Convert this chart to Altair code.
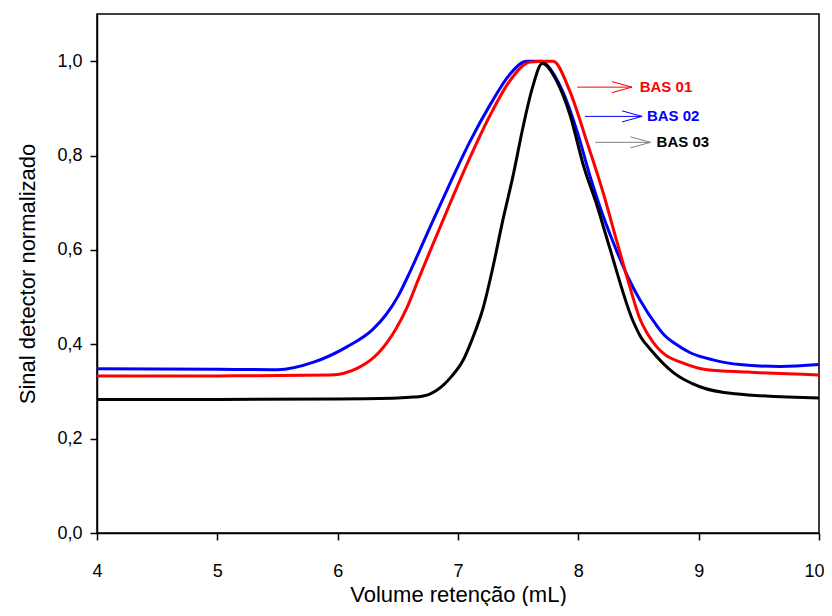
import altair as alt
import pandas as pd

# ---- data ----
bas02_x = [4.0, 5.0, 5.5, 5.8, 6.08, 6.29, 6.40, 6.50, 6.60, 6.767, 6.93, 7.10, 7.27, 7.43, 7.57, 7.70,
           7.74, 7.87, 7.99, 8.10, 8.21, 8.32, 8.43, 8.51, 8.65, 8.72, 8.80, 8.93, 9.12, 9.34, 9.68, 10.0]
bas02_y = [0.348, 0.347, 0.346, 0.362, 0.395, 0.431, 0.462, 0.501, 0.553, 0.648, 0.739, 0.830, 0.909, 0.972, 1.0, 1.0,
           0.992, 0.936, 0.851, 0.754, 0.669, 0.597, 0.533, 0.495, 0.440, 0.418, 0.402, 0.382, 0.367, 0.357, 0.353,
           0.357]

bas01_x = [4.0, 5.0, 5.94, 6.17, 6.34, 6.48, 6.58, 6.67, 6.767, 6.93, 7.10, 7.27, 7.43, 7.60, 7.74, 7.79,
           7.93, 8.07, 8.21, 8.32, 8.43, 8.51, 8.58, 8.65, 8.72, 8.85, 9.07, 9.40, 10.0]
bas01_y = [0.333, 0.333, 0.335, 0.350, 0.382, 0.431, 0.480, 0.537, 0.597, 0.696, 0.796, 0.887, 0.958, 0.998, 1.0, 1.0,
           0.936, 0.830, 0.718, 0.618, 0.520, 0.455, 0.420, 0.395, 0.378, 0.362, 0.346, 0.341, 0.335]

bas03_x = [4.0, 5.0, 6.0, 6.5, 6.63, 6.70, 6.76, 6.82, 6.88, 6.95, 7.04, 7.12, 7.21, 7.29, 7.37, 7.46, 7.54, 7.62,
           7.70, 7.82, 7.93, 8.04, 8.16, 8.26, 8.45, 8.52, 8.60, 8.79, 9.01, 9.30, 10.0]
bas03_y = [0.283, 0.283, 0.284, 0.286, 0.288, 0.290, 0.294, 0.302, 0.314, 0.333, 0.365, 0.412, 0.478, 0.563, 0.660,
           0.760, 0.860, 0.945, 0.995, 0.958, 0.887, 0.781, 0.690, 0.605, 0.452, 0.415, 0.389, 0.340, 0.310, 0.295,
           0.286]

x_ticks = [4, 5, 6, 7, 8, 9, 10]
y_ticks = [0.0, 0.2, 0.4, 0.6, 0.8, 1.0]

# annotation arrows and labels (data space)
ann_labels = ["BAS 01", "BAS 02", "BAS 03"]
ann_y = [0.945, 0.883, 0.828]
ann_x_start = [7.99, 8.055, 8.14]
ann_x_tip = [8.446, 8.53, 8.60]
ann_text_x = [8.51, 8.57, 8.65]
ann_line_colors = ["#FF0000", "#0000FF", "#808080"]
ann_text_colors = ["#FF0000", "#0000FF", "#000000"]

FONT = "Liberation Sans"

x_enc = alt.X("x:Q", scale=alt.Scale(domain=[4, 10], nice=False, zero=False),
              axis=alt.Axis(values=x_ticks, format="d", title="Volume retenção (mL)",
                            labelFlush=True, labelFlushOffset=5))
y_enc = alt.Y("y:Q", scale=alt.Scale(domain=[0, 1.1], nice=False),
              axis=alt.Axis(values=y_ticks,
                            labelExpr="replace(format(datum.value, '.1f'), '.', ',')",
                            title="Sinal detector normalizado"))


def curve(xs, ys, color):
    d = pd.DataFrame({"x": xs, "y": ys})
    return alt.Chart(d).mark_line(strokeWidth=3, interpolate="monotone", color=color).encode(
        x=x_enc, y=y_enc)


ann = pd.DataFrame({
    "label": ann_labels, "y": ann_y, "x": ann_x_start, "x2": ann_x_tip,
    "tx": ann_text_x, "lc": ann_line_colors, "tc": ann_text_colors,
})

rules = alt.Chart(ann).mark_rule(strokeWidth=1).encode(
    x="x:Q", x2="x2:Q", y="y:Q", color=alt.Color("lc:N", scale=None))

heads = alt.Chart(ann).mark_point(
    shape="M -2 -0.55 L 0 0 L -2 0.55", filled=False, size=400, strokeWidth=1, opacity=1
).encode(x="x2:Q", y="y:Q", stroke=alt.Stroke("lc:N", scale=None))

texts = alt.Chart(ann).mark_text(
    align="left", baseline="middle", font=FONT, fontSize=15, fontWeight="bold"
).encode(x="tx:Q", y="y:Q", text="label:N", color=alt.Color("tc:N", scale=None))

chart = alt.layer(
    curve(bas02_x, bas02_y, "#0000FF"),
    curve(bas01_x, bas01_y, "#FF0000"),
    curve(bas03_x, bas03_y, "#000000"),
    rules, heads, texts,
).properties(
    width=722, height=519,
    autosize=alt.AutoSizeParams(type="none"),
    padding={"left": 89, "top": 6, "right": 5, "bottom": 73},
).configure_view(
    stroke="black", strokeWidth=1.5
).configure_axis(
    grid=False, labelFont=FONT, titleFont=FONT, labelFontSize=18, titleFontSize=22,
    titleFontWeight="normal", labelColor="black", titleColor="black",
    domainColor="black", tickColor="black", domainWidth=1.5, tickWidth=1.5, tickSize=7,
).configure_axisX(
    labelPadding=22, titlePadding=4
).configure_axisY(
    labelPadding=8, titlePadding=17
)

chart.save("out.html", embed_options={"renderer": "svg", "actions": False})
